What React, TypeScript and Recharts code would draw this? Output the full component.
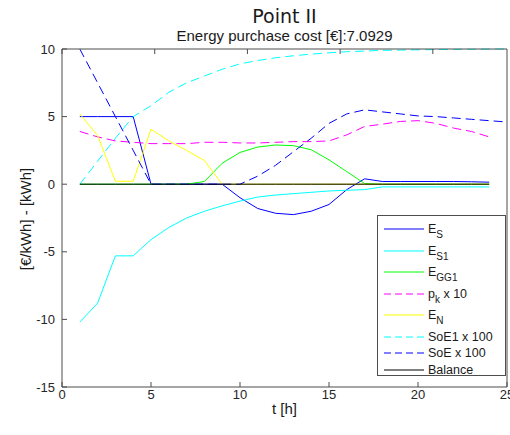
import { LineChart, Line, XAxis, YAxis } from "recharts";

// ── Data ──────────────────────────────────────────────────────────────────────
const hours = [1, 2, 3, 4, 5, 6, 7, 8, 9, 10, 11, 12, 13, 14, 15, 16, 17, 18, 19, 20, 21, 22, 23, 24, 25];

const eS = [5, 5, 5, 5, 0, 0, 0, 0, 0, -1.0, -1.8, -2.15, -2.25, -2.0, -1.5, -0.4, 0.4, 0.2, 0.2, 0.2, 0.2, 0.2, 0.18, 0.15];
const eS1 = [-10.2, -8.8, -5.3, -5.3, -4.1, -3.2, -2.5, -2.0, -1.6, -1.25, -0.95, -0.8, -0.7, -0.6, -0.5, -0.45, -0.4, -0.2, -0.2, -0.2, -0.2, -0.2, -0.2, -0.2];
const eGG1 = [0, 0, 0, 0, 0, 0, 0, 0.2, 1.55, 2.35, 2.75, 2.9, 2.85, 2.55, 1.8, 0.93, 0.05, 0, 0, 0, 0, 0, 0, 0];
const pk10 = [3.9, 3.5, 3.2, 3.1, 3.0, 3.0, 3.0, 3.1, 3.1, 3.05, 3.05, 3.1, 3.15, 3.15, 3.2, 3.65, 4.27, 4.44, 4.64, 4.7, 4.5, 4.15, 3.9, 3.5];
const eN = [5.2, 3.6, 0.22, 0.22, 4.07, 3.2, 2.5, 1.75, 0, 0, 0, 0, 0, 0, 0, 0, 0, 0, 0, 0, 0, 0, 0, 0];
const soE1 = [0, 1.7, 3.4, 5.0, 5.8, 6.8, 7.5, 8.0, 8.5, 8.9, 9.15, 9.35, 9.5, 9.62, 9.72, 9.8, 9.85, 9.9, 9.92, 9.94, 9.96, 9.97, 9.98, 9.99, 10];
const soE = [10, 7.5, 5, 2.5, 0, 0, 0, 0, 0, 0, 0.6, 1.4, 2.4, 3.4, 4.5, 5.2, 5.5, 5.35, 5.2, 5.05, 5.0, 4.9, 4.8, 4.7, 4.6];
const balance = [0, 0, 0, 0, 0, 0, 0, 0, 0, 0, 0, 0, 0, 0, 0, 0, 0, 0, 0, 0, 0, 0, 0, 0];

const xTicks = [0, 5, 10, 15, 20, 25];
const yTicks = [-15, -10, -5, 0, 5, 10];

const data = hours.map((t, i) => ({
  t,
  eS: eS[i],
  eS1: eS1[i],
  eGG1: eGG1[i],
  pk10: pk10[i],
  eN: eN[i],
  soE1: soE1[i],
  soE: soE[i],
  balance: balance[i],
}));

// ── Series / legend config ────────────────────────────────────────────────────
interface SeriesDef {
  key: string;
  name: string;
  sub?: string;
  suffix?: string;
  color: string;
  dashed?: boolean;
}

const series: SeriesDef[] = [
  { key: "eS", name: "E", sub: "S", color: "#0000ff" },
  { key: "eS1", name: "E", sub: "S1", color: "#00ffff" },
  { key: "eGG1", name: "E", sub: "GG1", color: "#00ff00" },
  { key: "pk10", name: "p", sub: "k", suffix: " x 10", color: "#ff00ff", dashed: true },
  { key: "eN", name: "E", sub: "N", color: "#ffff00" },
  { key: "soE1", name: "SoE1 x 100", color: "#00ffff", dashed: true },
  { key: "soE", name: "SoE x 100", color: "#0000ff", dashed: true },
  { key: "balance", name: "Balance", color: "#000000" },
];

const FONT = "'Liberation Sans', Arial, sans-serif";
const AXIS = "#4d4d4d";
const PLOT_DASH = "9 5";
const LEGEND_DASH = "7 4";

// ── Custom ticks (MATLAB style: marks inside the box) ─────────────────────────
function BottomTick({ x, y, payload }: any) {
  return (
    <g>
      <line x1={x} y1={y} x2={x} y2={y - 5} stroke={AXIS} />
      <text x={x} y={y + 12} textAnchor="middle" fontSize={13} fontFamily={FONT} fill="#262626">
        {payload.value}
      </text>
    </g>
  );
}

function TopTick({ x, y }: any) {
  return <line x1={x} y1={y} x2={x} y2={y + 5} stroke={AXIS} />;
}

function LeftTick({ x, y, payload }: any) {
  return (
    <g>
      <line x1={x} y1={y} x2={x + 5} y2={y} stroke={AXIS} />
      <text x={x - 7} y={y + 4.6} textAnchor="end" fontSize={13} fontFamily={FONT} fill="#262626">
        {payload.value}
      </text>
    </g>
  );
}

function RightTick({ x, y }: any) {
  return <line x1={x} y1={y} x2={x - 5} y2={y} stroke={AXIS} />;
}

// ── Legend overlay ────────────────────────────────────────────────────────────
function LegendBox() {
  return (
    <div
      style={{
        position: "absolute",
        left: 377,
        top: 215,
        width: 129,
        height: 161,
        border: `1px solid ${AXIS}`,
        background: "#fff",
        boxSizing: "border-box",
        paddingTop: 6,
        fontFamily: FONT,
        fontSize: 12.5,
        color: "#1a1a1a",
      }}
    >
      {series.map((s) => (
        <div
          key={s.key}
          style={{ height: s.sub ? 21.5 : 16.5, display: "flex", alignItems: "flex-start" }}
        >
          <svg width={40} height={14} style={{ marginLeft: 6, flexShrink: 0 }}>
            <line
              x1={0}
              y1={7}
              x2={40}
              y2={7}
              stroke={s.color}
              strokeWidth={1}
              strokeDasharray={s.dashed ? LEGEND_DASH : undefined}
            />
          </svg>
          <span style={{ marginLeft: 4, lineHeight: "14px", height: 14, whiteSpace: "nowrap" }}>
            {s.name}
            {s.sub && (
              <span style={{ fontSize: 10, position: "relative", top: 5 }}>{s.sub}</span>
            )}
            {s.suffix}
          </span>
        </div>
      ))}
    </div>
  );
}

// ── Main ──────────────────────────────────────────────────────────────────────
export default function App() {
  return (
    <div style={{ position: "relative", width: 510, height: 435, background: "#fff" }}>
      <style>{"body{margin:0}"}</style>

      <div
        style={{
          position: "absolute",
          left: 0,
          width: 569,
          top: 4,
          textAlign: "center",
          fontFamily: "'DejaVu Sans', sans-serif",
          fontSize: 19,
          lineHeight: "24px",
          color: "#1a1a1a",
        }}
      >
        Point II
      </div>
      <div
        style={{
          position: "absolute",
          left: 0,
          width: 569,
          top: 27,
          textAlign: "center",
          fontFamily: FONT,
          fontSize: 15,
          lineHeight: "18px",
          color: "#1a1a1a",
        }}
      >
        Energy purchase cost [€]:7.0929
      </div>

      <LineChart width={510} height={435} data={data} margin={{ top: 0, right: 0, bottom: 0, left: 0 }}>
        <XAxis
          dataKey="t"
          type="number"
          domain={[0, 25]}
          ticks={xTicks}
          interval={0}
          height={48}
          tickSize={0}
          tickMargin={0}
          tickLine={false}
          axisLine={{ stroke: AXIS }}
          tick={<BottomTick />}
        />
        <XAxis
          xAxisId="top"
          orientation="top"
          type="number"
          domain={[0, 25]}
          ticks={xTicks}
          interval={0}
          height={49}
          tickSize={0}
          tickMargin={0}
          tickLine={false}
          axisLine={{ stroke: AXIS }}
          tick={<TopTick />}
        />
        <YAxis
          type="number"
          domain={[-15, 10]}
          ticks={yTicks}
          interval={0}
          width={62}
          tickSize={0}
          tickMargin={0}
          tickLine={false}
          axisLine={{ stroke: AXIS }}
          tick={<LeftTick />}
        />
        <YAxis
          yAxisId="right"
          orientation="right"
          type="number"
          domain={[-15, 10]}
          ticks={yTicks}
          interval={0}
          width={3}
          tickSize={0}
          tickMargin={0}
          tickLine={false}
          axisLine={{ stroke: AXIS }}
          tick={<RightTick />}
        />
        {series.map((s) => (
          <Line
            key={s.key}
            dataKey={s.key}
            type="linear"
            stroke={s.color}
            strokeWidth={1}
            strokeDasharray={s.dashed ? PLOT_DASH : undefined}
            dot={false}
            activeDot={false}
            isAnimationActive={false}
          />
        ))}
      </LineChart>

      <div
        style={{
          position: "absolute",
          left: 284.5,
          top: 408,
          transform: "translate(-50%, -50%)",
          fontFamily: FONT,
          fontSize: 15,
          color: "#1a1a1a",
          whiteSpace: "nowrap",
        }}
      >
        t [h]
      </div>
      <div
        style={{
          position: "absolute",
          left: 24.5,
          top: 218.5,
          transform: "translate(-50%, -50%) rotate(-90deg)",
          fontFamily: FONT,
          fontSize: 15,
          color: "#1a1a1a",
          whiteSpace: "nowrap",
        }}
      >
        [€/kWh] - [kWh]
      </div>

      <LegendBox />
    </div>
  );
}
